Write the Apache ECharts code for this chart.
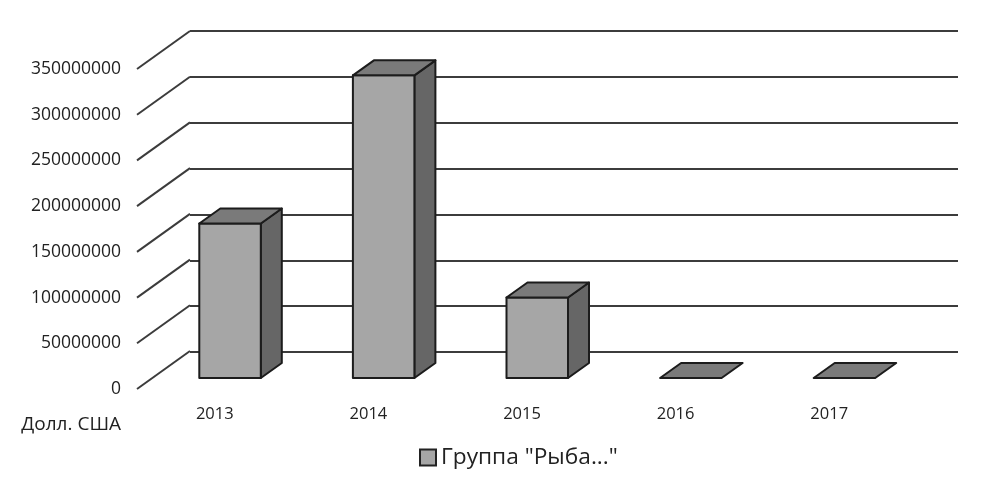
<!DOCTYPE html>
<html><head><meta charset="utf-8">
<style>html,body{margin:0;padding:0;background:#fff}#c{width:997px;height:482px}</style>
<script src="https://cdn.jsdelivr.net/npm/echarts@6/dist/echarts.min.js"></script>
</head><body><div id="c"></div>
<script>
const categories = ['2013','2014','2015','2016','2017'];
const seriesName = 'Группа "Рыба..."';
const values = [169000000, 331000000, 88000000, 0, 0];
const valueTicks = [0,50000000,100000000,150000000,200000000,250000000,300000000,350000000];
const unitLabel = 'Долл. США';

const FONT = '"Open Sans"';
const TEXT = '#222';
const LINE = '#3c3c3c';
const chart = echarts.init(document.getElementById('c'), null, {renderer:'canvas'});
chart.setOption({
  animation:false,
  backgroundColor:'#fff',
  legend:{data:[seriesName], left:414, top:441, itemWidth:16, itemHeight:16, itemGap:3, icon:'rect',
    textStyle:{fontFamily:FONT,fontSize:22.7,color:TEXT}},
  grid:[
    {left:190,right:39,top:31,bottom:130},
    {left:137,right:92,top:69,bottom:93}
  ],
  xAxis:[
    {gridIndex:0,type:'category',data:categories,show:false},
    {gridIndex:1,type:'category',data:categories,
      axisLine:{show:false},axisTick:{show:false},
      axisLabel:{margin:17,fontFamily:FONT,fontSize:16.5,color:TEXT,padding:[0,0,0,2]}}
  ],
  yAxis:[
    {gridIndex:0,type:'value',min:0,max:350000000,interval:50000000,
      axisLine:{show:false},axisTick:{show:false},axisLabel:{show:false},
      splitLine:{show:true,lineStyle:{color:LINE,width:2}}},
    {gridIndex:1,type:'value',min:0,max:350000000,interval:50000000,
      axisLine:{show:false},axisTick:{show:false},splitLine:{show:false},
      axisLabel:{margin:16,fontFamily:FONT,fontSize:17.5,color:TEXT,formatter:v=>String(v)},
      name:unitLabel,nameLocation:'start',nameGap:26,
      nameTextStyle:{fontFamily:FONT,fontSize:19,color:TEXT,align:'right',padding:[0,16,0,0]}}
  ],
  series:[
    {type:'custom',name:'walls',xAxisIndex:1,yAxisIndex:1,silent:true,clip:false,z:2,
      data:valueTicks.map(v=>[categories[0],v]),encode:{x:0,y:1},
      renderItem(params,api){
        const cs=params.coordSys;
        const y=api.coord([0,api.value(1)])[1];
        return {type:'line',shape:{x1:cs.x,y1:y,x2:cs.x+53,y2:y-38},
          style:{stroke:LINE,lineWidth:2,fill:null}};
      }},
    {type:'custom',name:seriesName,xAxisIndex:1,yAxisIndex:1,clip:false,z:3,
      itemStyle:{color:'#a6a6a6',borderColor:'#222',borderWidth:1.5},
      data:categories.map((c,i)=>[c,values[i]]),encode:{x:0,y:1},
      renderItem(params,api){
        const top=api.coord([api.value(0),api.value(1)]);
        const base=api.coord([api.value(0),0]);
        const w=61.5, dx=21, dy=15;
        const l=top[0]-14.5, r=l+w;
        const t=top[1]-11, b=base[1]-11;
        const st=f=>({fill:f,stroke:'#1c1c1c',lineWidth:2,lineJoin:'round'});
        const poly=(pts,f)=>({type:'polygon',shape:{points:pts},style:st(f)});
        const kids=[];
        if(b-t>0.5){
          kids.push(poly([[r,t],[r+dx,t-dy],[r+dx,b-dy],[r,b]],'#666666'));
          kids.push(poly([[l,t],[r,t],[r,b],[l,b]],'#a6a6a6'));
        }
        kids.push(poly([[l,t],[l+dx,t-dy],[r+dx,t-dy],[r,t]],'#7a7a7a'));
        return {type:'group',children:kids};
      }}
  ]
});
</script></body></html>
